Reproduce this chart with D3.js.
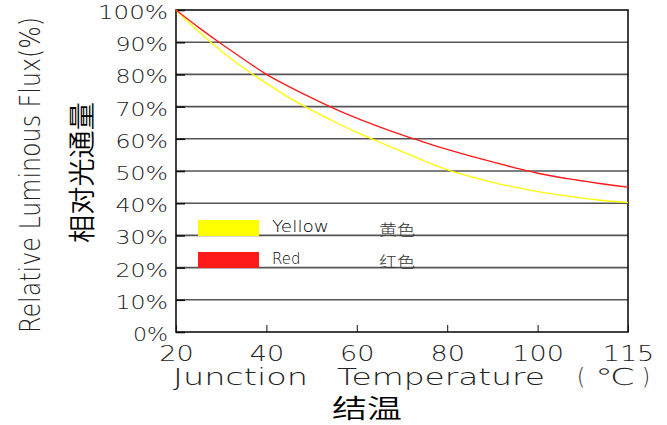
<!DOCTYPE html>
<html><head><meta charset="utf-8">
<script src="https://cdn.jsdelivr.net/npm/d3@7"></script>
<style>
html,body{margin:0;padding:0;background:#fff;}
svg{display:block;}
.cad{font-family:"DejaVu Sans",sans-serif;font-weight:200;fill:#222;}
.cjk{font-family:"Noto Sans CJK SC",sans-serif;font-weight:350;fill:#000;}
</style></head>
<body>
<svg id="c" width="667" height="425"></svg>
<script>
// ---- data ----
const xTicks = [20, 40, 60, 80, 100, 115];
const yTicks = [0, 10, 20, 30, 40, 50, 60, 70, 80, 90, 100];
const temps  = [20, 25, 30, 35, 40, 45, 50, 55, 60, 65, 70, 75, 80, 85, 90, 95, 100, 105, 110, 115];
const yellowVals = [100, 93.3, 87.3, 82, 77.2, 72.8, 68.9, 65.3, 62, 59, 56, 53.1, 50.4, 48.3, 46.5, 45, 43.6, 42.2, 41, 40.2];
const redVals    = [100, 94.6, 89.5, 84.7, 80, 76.2, 72.7, 69.4, 66.4, 63.7, 61.2, 58.9, 56.7, 54.7, 52.8, 51, 49.3, 47.6, 46.2, 45];
const seriesNames = ["Yellow", "Red"];
const seriesCn = ["黄色", "红色"];
const seriesColors = ["#ffff00", "#ff1a1a"];

// ---- layout ----
const L = 176, R = 628, T = 10, B = 332;
const svg = d3.select("#c");
const step = (R - L) / (xTicks.length - 1);
const x = d3.scaleLinear().domain(xTicks).range(xTicks.map((d, i) => L + i * step));
const y = d3.scaleLinear().domain([0, 100]).range([B, T]);

// gridlines
svg.append("g").selectAll("line").data(yTicks.filter(d => d > 0 && d < 100)).join("line")
  .attr("x1", L).attr("x2", R).attr("y1", d => y(d)).attr("y2", d => y(d))
  .attr("stroke", "#555").attr("stroke-width", 1.6);

// y axis labels
const ya = svg.append("g").attr("transform", `translate(${L},0)`)
  .call(d3.axisLeft(y).tickValues(yTicks).tickFormat(d => d + "%").tickSize(-9).tickPadding(8));
ya.select(".domain").remove();
ya.selectAll("line").attr("stroke", "#111").attr("stroke-width", 1.6);
ya.selectAll("text").attr("class", "cad").attr("font-size", 20).attr("dy", "0.42em")
  .attr("lengthAdjust", "spacingAndGlyphs")
  .attr("textLength", d => (d + "%").length * 17.5)
  .style("font-family", null);

// x axis
const xa = svg.append("g").attr("transform", `translate(0,${B})`)
  .call(d3.axisBottom(x).tickValues(xTicks).tickFormat(d => d).tickSize(-7).tickPadding(8));
xa.select(".domain").remove();
xa.selectAll("line").attr("stroke", "#111").attr("stroke-width", 1);
xa.selectAll("text").attr("class", "cad").attr("font-size", 22).attr("dy", "0.95em")
  .attr("lengthAdjust", "spacingAndGlyphs")
  .attr("textLength", d => String(d).length * 17.2);

// frame
svg.append("rect").attr("x", L).attr("y", T).attr("width", R - L).attr("height", B - T)
  .attr("fill", "none").attr("stroke", "#111").attr("stroke-width", 1.6);

// curves
const line = d3.line().x((d, i) => x(temps[i])).y(d => y(d)).curve(d3.curveMonotoneX);
[yellowVals, redVals].forEach((vals, k) => {
  svg.append("path").attr("d", line(vals)).attr("fill", "none")
    .attr("stroke", seriesColors[k]).attr("stroke-width", 1.3);
});

// legend
const legY = [220, 252];
seriesNames.forEach((n, k) => {
  svg.append("rect").attr("x", 198).attr("y", legY[k]).attr("width", 61).attr("height", 16)
    .attr("fill", seriesColors[k]);
  svg.append("text").attr("class", "cad").attr("x", 272).attr("y", legY[k] + 12)
    .attr("font-size", 15).attr("lengthAdjust", "spacingAndGlyphs")
    .style("fill", "#000")
    .attr("textLength", n.length * 9.5).text(n);
  svg.append("text").attr("class", "cjk").attr("x", 379).attr("y", legY[k] + 15)
    .attr("font-size", 15).attr("lengthAdjust", "spacingAndGlyphs")
    .style("fill", "#333").style("font-weight", 300)
    .attr("textLength", 36).text(seriesCn[k]);
});

// axis titles
const xt = [["Junction", 173, 135], ["Temperature", 337, 208], ["(", 577, 8], ["℃", 595, 40], [")", 642, 8]];
xt.forEach(([s, px, w]) => {
  svg.append("text").attr("class", "cad").attr("x", px).attr("y", 385)
    .attr("font-size", 23).attr("lengthAdjust", "spacingAndGlyphs")
    .attr("textLength", w).text(s);
});
svg.append("text").attr("class", "cjk").attr("x", 332).attr("y", 418)
  .attr("font-size", 26).attr("lengthAdjust", "spacingAndGlyphs")
  .attr("textLength", 70).text("结温");

svg.append("text").attr("class", "cad").attr("transform", "translate(40,333) rotate(-90) scale(0.82,1)")
  .attr("font-size", 29).text("Relative Luminous Flux(%)");
svg.append("text").attr("class", "cjk").attr("transform", "translate(92,243) rotate(-90)")
  .attr("font-size", 27).attr("lengthAdjust", "spacingAndGlyphs")
  .attr("textLength", 141).text("相对光通量");
</script>
</body></html>
